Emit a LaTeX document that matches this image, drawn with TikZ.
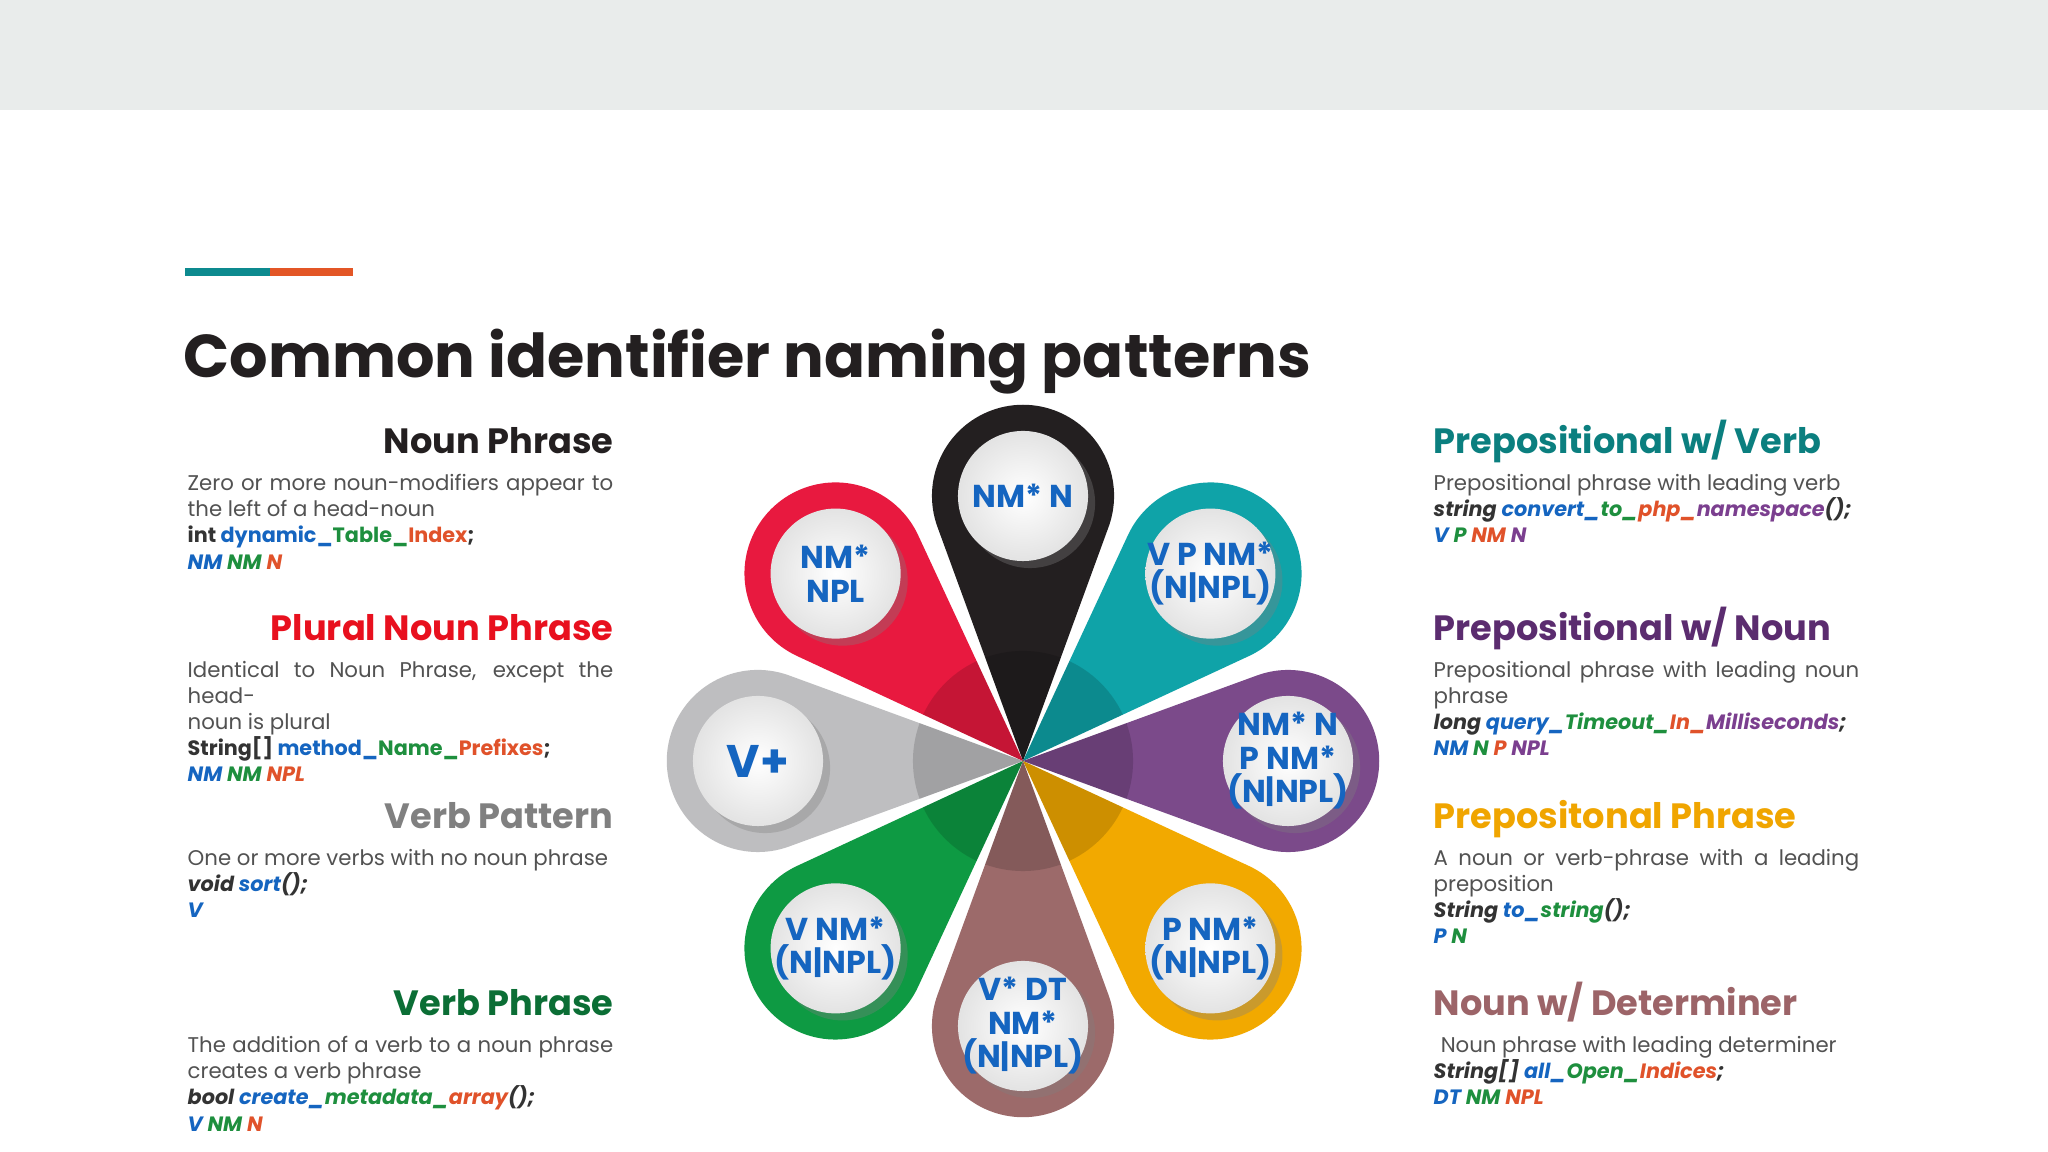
\documentclass[tikz,border=0pt]{standalone}
\usepackage{fontspec}
\setmainfont{Poppins}
\usetikzlibrary{shadows}
\definecolor{cb}{HTML}{1565C0}
\definecolor{cg}{HTML}{1E8F3E}
\definecolor{co}{HTML}{E0522A}
\definecolor{cp}{HTML}{7B3F8F}
\definecolor{dk}{HTML}{333333}
\definecolor{pblack}{HTML}{231F20}
\definecolor{pteal}{HTML}{0FA3A8}
\definecolor{ppurple}{HTML}{7B4A8A}
\definecolor{pyellow}{HTML}{F2A900}
\definecolor{pbrown}{HTML}{9C6A6A}
\definecolor{pgreen}{HTML}{0E9A43}
\definecolor{pgray}{HTML}{BEBEC0}
\definecolor{pred}{HTML}{E8193F}
\definecolor{hred}{HTML}{E8101E}
\definecolor{hgray}{HTML}{808080}
\definecolor{hgreen}{HTML}{0B6E35}
\definecolor{hteal}{HTML}{0B7F7F}
\definecolor{hpurple}{HTML}{5B2C6F}
\definecolor{hyellow}{HTML}{F0A500}
\definecolor{hbrown}{HTML}{9C6468}
\definecolor{band}{HTML}{E9ECEB}
\newcommand{\petalpath}{(0,0) -- (20.08:2.489cm) arc[start angle=110.08, end angle=-110.08, radius=0.91cm] -- cycle}
\newcommand{\mypetal}[4]{%
  \begin{scope}[shift={(1023,391)},rotate=#1]
    \fill[#2] \petalpath;
    \begin{scope}\clip \petalpath; \fill[black,opacity=.15] (0,0) circle[radius=1.1cm]; \end{scope}
    \node[ball] (#3) at (265,0) {};
  \end{scope}
  \node[balltext] at (#3) {#4};}
\newcommand{\codeln}[1]{\mbox{\fontsize{5.9}{7.4}\selectfont\bfseries #1}}
\begin{document}
\begin{tikzpicture}[x=0.01cm,y=0.01cm,
  ball/.style={circle,minimum size=1.3cm,inner sep=0,shading=radial,inner color=white,outer color=gray!22,drop shadow={opacity=.35,shadow xshift=2pt,shadow yshift=-2pt}},
  balltext/.style={text=cb,font=\fontsize{9}{9.5}\selectfont\bfseries,align=center},
  head/.style={font=\fontsize{10}{12}\selectfont\bfseries,inner sep=0},
  body/.style={font=\fontsize{6.05}{7.4}\selectfont,text=dk!85,text width=121pt,align=justify,inner sep=0}]
\useasboundingbox (0,0) rectangle (2048,1152);
\fill[white] (0,0) rectangle (2048,1152);
\fill[band] (0,1042) rectangle (2048,1152);
\fill[pteal!85!black] (185,876) rectangle (270,884);
\fill[co!90!orange] (270,876) rectangle (353,884);
\node[anchor=base west,inner sep=0,font=\fontsize{17.2}{20}\selectfont\bfseries,text=pblack] (title) at (183,774) {Common identifier naming patterns};
% flower
\mypetal{90}{pblack}{c1}{NM* N}
\mypetal{45}{pteal}{c2}{V P NM*\\(N|NPL)}
\mypetal{0}{ppurple}{c3}{NM* N\\P NM*\\(N|NPL)}
\mypetal{-45}{pyellow}{c4}{P NM*\\(N|NPL)}
\mypetal{-90}{pbrown}{c5}{V* DT\\NM*\\(N|NPL)}
\mypetal{-135}{pgreen}{c6}{V NM*\\(N|NPL)}
\mypetal{180}{pgray}{c7}{\fontsize{13}{14}\selectfont V+}
\mypetal{135}{pred}{c8}{NM*\\NPL}
% left
\node[head,anchor=base east,text=pblack] (h1) at (614,698) {Noun Phrase};
\node[body,anchor=north west] (b1) at (187,678) {Zero or more noun-modifiers appear to the left of a head-noun\\
\codeln{\color{dk}int \textcolor{cb}{dynamic\_}\textcolor{cg}{Table\_}\textcolor{co}{Index};}\\
\codeln{\itshape\textcolor{cb}{NM} \textcolor{cg}{NM} \textcolor{co}{N}}};
\node[head,anchor=base east,text=hred] (h2) at (614,511) {Plural Noun Phrase};
\node[body,anchor=north west] (b2) at (187,491) {Identical to Noun Phrase, except the head-\\noun is plural\\
\codeln{\color{dk}String[] \textcolor{cb}{method\_}\textcolor{cg}{Name\_}\textcolor{co}{Prefixes};}\\
\codeln{\itshape\textcolor{cb}{NM} \textcolor{cg}{NM} \textcolor{co}{NPL}}};
\node[head,anchor=base east,text=hgray] (h3) at (614,323) {Verb Pattern};
\node[body,anchor=north west] (b3) at (187,303) {One or more verbs with no noun phrase\\
\codeln{\itshape\color{dk}void \textcolor{cb}{sort}();}\\
\codeln{\itshape\textcolor{cb}{V}}};
\node[head,anchor=base east,text=hgreen] (h4) at (614,136) {Verb Phrase};
\node[body,anchor=north west] (b4) at (187,116) {The addition of a verb to a noun phrase creates a verb phrase\\
\codeln{\itshape\color{dk}bool \textcolor{cb}{create\_}\textcolor{cg}{metadata\_}\textcolor{co}{array}();}\\
\codeln{\itshape\textcolor{cb}{V} \textcolor{cg}{NM} \textcolor{co}{N}}};
% right
\node[head,anchor=base west,text=hteal] (h5) at (1433,698) {Prepositional w/ Verb};
\node[body,anchor=north west] (b5) at (1433,678) {Prepositional phrase with leading verb\\
\codeln{\itshape\color{dk}string \textcolor{cb}{convert\_}\textcolor{cg}{to\_}\textcolor{co}{php\_}\textcolor{cp}{namespace}();}\\
\codeln{\itshape\textcolor{cb}{V} \textcolor{cg}{P} \textcolor{co}{NM} \textcolor{cp}{N}}};
\node[head,anchor=base west,text=hpurple] (h6) at (1433,511) {Prepositional w/ Noun};
\node[body,anchor=north west] (b6) at (1433,491) {Prepositional phrase with leading noun phrase\\
\codeln{\itshape\color{dk}long \textcolor{cb}{query\_}\textcolor{cg}{Timeout\_}\textcolor{co}{In\_}\textcolor{cp}{Milliseconds};}\\
\codeln{\itshape\textcolor{cb}{NM} \textcolor{cg}{N} \textcolor{co}{P} \textcolor{cp}{NPL}}};
\node[head,anchor=base west,text=hyellow] (h7) at (1433,323) {Prepositonal Phrase};
\node[body,anchor=north west] (b7) at (1433,303) {A noun or verb-phrase with a leading preposition\\
\codeln{\itshape\color{dk}String \textcolor{cb}{to\_}\textcolor{cg}{string}();}\\
\codeln{\itshape\textcolor{cb}{P} \textcolor{cg}{N}}};
\node[head,anchor=base west,text=hbrown] (h8) at (1433,136) {Noun w/ Determiner};
\node[body,anchor=north west] (b8) at (1433,116) {\hspace*{2pt}Noun phrase with leading determiner\\
\codeln{\itshape\color{dk}String[] \textcolor{cb}{all\_}\textcolor{cg}{Open\_}\textcolor{co}{Indices};}\\
\codeln{\itshape\textcolor{cb}{DT} \textcolor{cg}{NM} \textcolor{co}{NPL}}};
\end{tikzpicture}
\end{document}
